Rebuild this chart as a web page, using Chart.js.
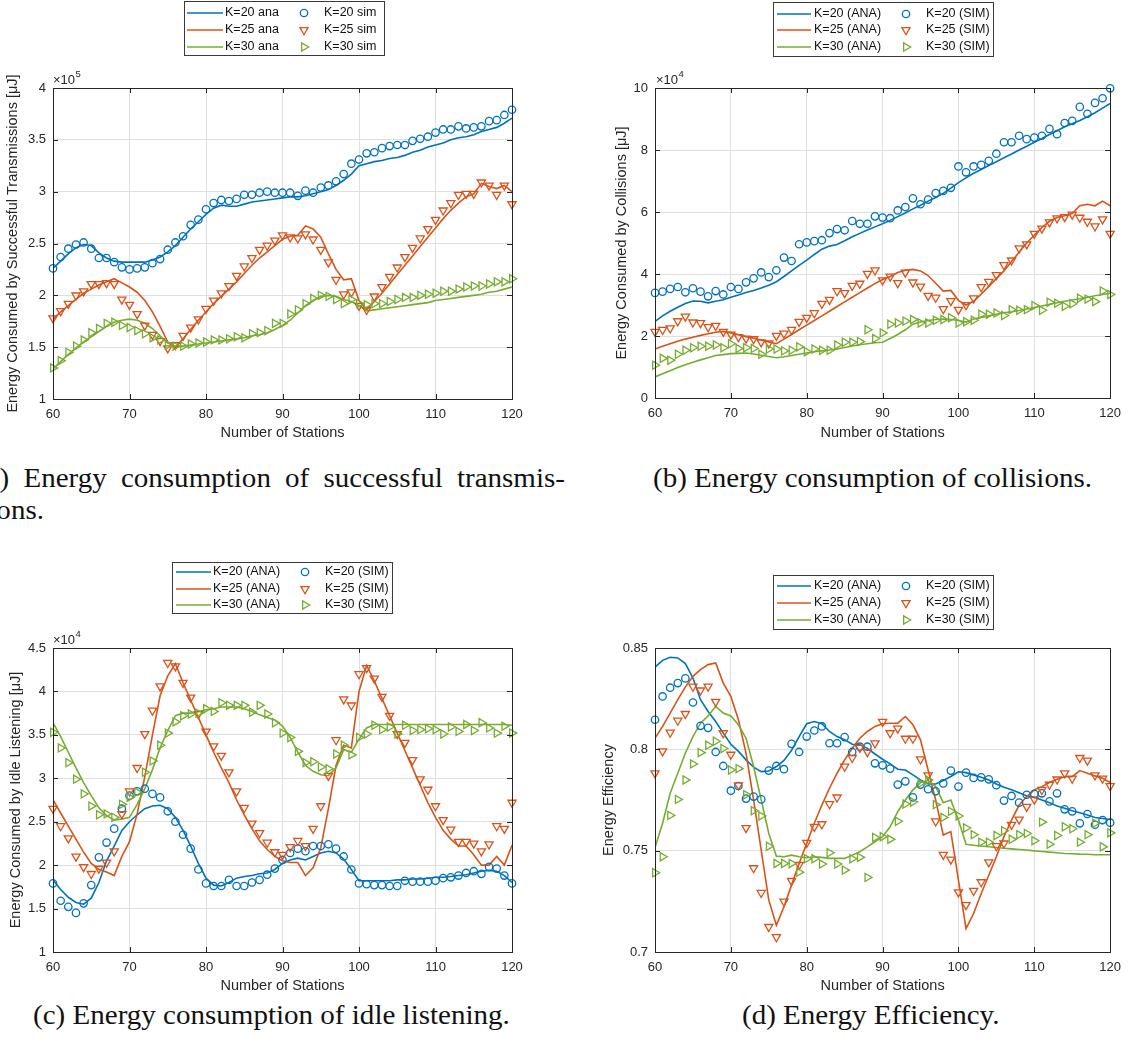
<!DOCTYPE html>
<html>
<head>
<meta charset="utf-8">
<script src="https://cdn.jsdelivr.net/npm/chart.js@4.4.1/dist/chart.umd.min.js"></script>
<style>
  html, body { margin: 0; padding: 0; background: #fff; }
  body { width: 1129px; height: 1047px; position: relative; overflow: hidden; }
  canvas { position: absolute; }
  .cap { position: absolute; font-family: 'Liberation Serif', 'Times New Roman', serif; color: #111; white-space: normal; transform-origin: 0 0; }
</style>
</head>
<body>
<canvas id="cA" width="560" height="446" style="left:0px;top:0px"></canvas>
<canvas id="cB" width="520" height="446" style="left:609px;top:0px"></canvas>
<canvas id="cC" width="557" height="439" style="left:3px;top:560px"></canvas>
<canvas id="cD" width="533" height="439" style="left:596px;top:560px"></canvas>

<div class="cap" id="capA1" style="text-align:justify;text-align-last:justify">(a) Energy consumption of successful transmis-</div>
<div class="cap" id="capA2">sions.</div>
<div class="cap" id="capB">(b) Energy consumption of collisions.</div>
<div class="cap" id="capC">(c) Energy consumption of idle listening.</div>
<div class="cap" id="capD">(d) Energy Efficiency.</div>

<script>
// ---------------- data ----------------
const stations = [60,61,62,63,64,65,66,67,68,69,
  70,71,72,73,74,75,76,77,78,79,
  80,81,82,83,84,85,86,87,88,89,
  90,91,92,93,94,95,96,97,98,99,
  100,101,102,103,104,105,106,107,108,109,
  110,111,112,113,114,115,116,117,118,119,
  120];

const xTicks = [60,70,80,90,100,110,120];
const xTickLabels = ['60','70','80','90','100','110','120'];

// (a) successful transmissions, x10^5 uJ
const yTicksA = [1,1.5,2,2.5,3,3.5,4];
const yLabelsA = ['1','1.5','2','2.5','3','3.5','4'];
const aK20ana = [2.26,2.33,2.40,2.46,2.49,2.48,2.41,2.36,2.33,2.32,
  2.32,2.32,2.32,2.34,2.37,2.42,2.48,2.56,2.64,2.71,
  2.78,2.84,2.87,2.86,2.86,2.88,2.90,2.91,2.92,2.93,
  2.94,2.95,2.95,2.96,2.98,3.00,3.02,3.06,3.11,3.17,
  3.25,3.27,3.29,3.30,3.32,3.33,3.35,3.38,3.40,3.43,
  3.45,3.47,3.50,3.52,3.53,3.55,3.58,3.60,3.62,3.66,
  3.71];
const aK25ana = [1.77,1.84,1.90,1.96,2.02,2.06,2.10,2.13,2.16,2.12,
  2.08,2.03,1.95,1.84,1.70,1.55,1.50,1.58,1.67,1.76,
  1.84,1.92,1.99,2.06,2.13,2.21,2.29,2.36,2.42,2.48,
  2.54,2.57,2.58,2.67,2.64,2.56,2.40,2.25,2.15,2.16,
  1.95,1.86,1.94,2.02,2.11,2.20,2.29,2.38,2.47,2.56,
  2.65,2.74,2.82,2.89,2.95,2.98,3.08,3.05,3.03,3.06,
  3.00];
const aK30ana = [1.29,1.36,1.43,1.49,1.55,1.60,1.65,1.70,1.74,1.76,
  1.77,1.76,1.73,1.68,1.61,1.54,1.51,1.51,1.52,1.53,
  1.54,1.55,1.56,1.57,1.58,1.59,1.61,1.62,1.64,1.67,
  1.71,1.76,1.83,1.90,1.95,1.99,2.00,1.99,1.96,1.94,
  1.90,1.85,1.86,1.87,1.88,1.89,1.90,1.91,1.92,1.93,
  1.95,1.96,1.97,1.98,1.99,2.00,2.01,2.03,2.04,2.06,
  2.08];
const aK20sim = [2.26,2.37,2.45,2.49,2.51,2.45,2.36,2.36,2.32,2.27,
  2.25,2.26,2.27,2.31,2.35,2.44,2.51,2.57,2.68,2.73,
  2.83,2.89,2.92,2.91,2.93,2.97,2.97,2.99,3.00,2.99,
  2.99,2.99,2.96,3.01,2.99,3.04,3.06,3.10,3.17,3.27,
  3.31,3.37,3.38,3.42,3.44,3.45,3.45,3.49,3.51,3.53,
  3.57,3.60,3.60,3.63,3.61,3.62,3.63,3.68,3.69,3.74,
  3.79];
const aK25sim = [1.78,1.85,1.92,2.00,2.04,2.11,2.11,2.12,2.11,1.96,
  1.91,1.82,1.71,1.62,1.56,1.49,1.52,1.61,1.69,1.77,
  1.87,1.95,2.02,2.09,2.19,2.28,2.36,2.44,2.48,2.53,
  2.58,2.56,2.55,2.59,2.54,2.44,2.32,2.15,2.01,2.03,
  1.90,1.86,1.99,2.08,2.18,2.27,2.37,2.46,2.55,2.64,
  2.73,2.82,2.89,2.97,2.98,2.98,3.09,3.06,2.97,3.06,
  2.88];
const aK30sim = [1.30,1.37,1.45,1.51,1.57,1.64,1.68,1.73,1.74,1.71,
  1.69,1.66,1.63,1.59,1.57,1.52,1.51,1.51,1.53,1.54,
  1.55,1.57,1.57,1.58,1.60,1.59,1.63,1.64,1.66,1.73,
  1.73,1.82,1.86,1.92,1.97,2.00,1.99,1.96,1.92,1.96,
  1.92,1.91,1.92,1.92,1.94,1.96,1.98,1.98,2.00,2.01,
  2.02,2.04,2.04,2.06,2.08,2.09,2.09,2.11,2.13,2.13,
  2.16];

// (b) collisions, x10^4 uJ
const yTicksB = [0,2,4,6,8,10];
const yLabelsB = ['0','2','4','6','8','10'];
const bK20ana = [2.47,2.65,2.80,2.93,3.05,3.13,3.12,3.07,3.12,3.17,
  3.25,3.32,3.40,3.47,3.55,3.64,3.75,3.92,4.10,4.28,
  4.45,4.63,4.80,4.90,4.95,5.07,5.20,5.31,5.42,5.52,
  5.62,5.73,5.85,5.97,6.10,6.22,6.35,6.47,6.60,6.77,
  6.95,7.10,7.25,7.37,7.50,7.62,7.75,7.87,8.00,8.12,
  8.25,8.37,8.50,8.62,8.75,8.85,8.95,9.07,9.20,9.35,
  9.50];
const bK25ana = [1.58,1.67,1.75,1.83,1.90,1.96,2.02,2.07,2.12,2.15,
  2.10,2.04,1.98,1.93,1.87,1.81,1.75,1.90,2.05,2.20,
  2.35,2.50,2.65,2.80,2.95,3.10,3.25,3.40,3.55,3.69,
  3.82,3.92,4.05,4.12,4.15,4.10,3.95,3.70,3.45,3.47,
  3.15,3.00,3.12,3.35,3.60,3.85,4.10,4.40,4.70,5.00,
  5.25,5.50,5.70,5.82,5.88,5.95,6.20,6.25,6.20,6.35,
  6.20];
const bK30ana = [0.68,0.78,0.88,0.98,1.07,1.15,1.23,1.30,1.37,1.40,
  1.43,1.44,1.45,1.42,1.38,1.34,1.30,1.33,1.37,1.41,
  1.45,1.49,1.52,1.55,1.58,1.63,1.68,1.72,1.75,1.78,
  1.80,1.92,2.05,2.20,2.38,2.45,2.50,2.53,2.55,2.53,
  2.50,2.45,2.55,2.60,2.65,2.70,2.75,2.78,2.82,2.87,
  2.92,2.97,3.02,3.07,3.12,3.16,3.20,3.25,3.30,3.34,
  3.38];
const bK20sim = [3.39,3.43,3.52,3.58,3.41,3.54,3.43,3.28,3.45,3.34,
  3.58,3.52,3.73,3.86,4.05,3.90,4.12,4.53,4.42,4.96,
  5.02,5.06,5.09,5.32,5.45,5.41,5.71,5.62,5.62,5.86,
  5.82,5.80,6.05,6.16,6.44,6.25,6.40,6.61,6.68,6.78,
  7.47,7.28,7.47,7.52,7.65,7.88,8.25,8.25,8.46,8.35,
  8.40,8.46,8.68,8.51,8.87,8.94,9.39,9.17,9.52,9.67,
  9.99];
const bK25sim = [2.14,2.20,2.25,2.48,2.63,2.44,2.42,2.29,2.33,2.14,
  2.05,1.97,1.92,1.90,1.80,1.77,2.01,2.08,2.20,2.46,
  2.59,2.74,3.04,3.17,3.45,3.39,3.62,3.69,4.01,4.12,
  3.80,3.92,3.71,4.05,3.73,3.60,3.30,3.24,2.87,3.13,
  2.85,3.00,3.22,3.58,3.75,3.97,4.29,4.44,4.83,4.96,
  5.30,5.47,5.67,5.80,5.84,5.92,5.82,5.69,5.54,5.77,
  5.30];
const bK30sim = [1.06,1.28,1.22,1.41,1.54,1.62,1.67,1.67,1.71,1.62,
  1.75,1.60,1.62,1.60,1.41,1.58,1.58,1.52,1.54,1.65,
  1.49,1.58,1.54,1.54,1.71,1.80,1.80,1.82,2.20,1.92,
  2.10,2.38,2.42,2.48,2.53,2.42,2.42,2.51,2.53,2.59,
  2.42,2.46,2.51,2.70,2.70,2.74,2.66,2.85,2.83,2.85,
  2.98,2.83,3.09,3.06,2.96,3.04,3.22,3.19,3.11,3.45,
  3.34];

// (c) idle listening, x10^4 uJ
const yTicksC = [1,1.5,2,2.5,3,3.5,4,4.5];
const yLabelsC = ['1','1.5','2','2.5','3','3.5','4','4.5'];
const cK20ana = [1.83,1.72,1.63,1.57,1.55,1.62,1.80,2.05,2.22,2.40,
  2.50,2.58,2.65,2.68,2.69,2.65,2.55,2.40,2.22,2.02,
  1.85,1.77,1.76,1.80,1.85,1.87,1.88,1.90,1.91,1.95,
  2.02,2.06,2.08,2.06,2.10,2.14,2.16,2.14,2.07,1.95,
  1.82,1.82,1.82,1.82,1.82,1.83,1.83,1.84,1.84,1.85,
  1.86,1.86,1.87,1.88,1.89,1.91,1.93,1.94,1.93,1.88,
  1.80];
const cK25ana = [2.75,2.60,2.45,2.30,2.15,2.02,1.95,1.92,1.88,2.10,
  2.27,2.59,3.02,3.50,3.95,4.18,4.32,4.10,3.90,3.70,
  3.50,3.30,3.12,2.95,2.75,2.58,2.42,2.28,2.18,2.10,
  2.05,2.03,2.03,1.88,1.97,2.20,2.65,3.15,3.38,3.35,
  4.00,4.30,4.12,3.92,3.72,3.52,3.32,3.12,2.92,2.72,
  2.55,2.40,2.30,2.22,2.22,2.12,2.00,2.00,2.10,2.00,
  2.23];
const cK30ana = [3.64,3.48,3.30,3.12,2.95,2.80,2.66,2.57,2.52,2.53,
  2.55,2.70,2.88,3.10,3.35,3.55,3.72,3.75,3.75,3.77,
  3.79,3.80,3.82,3.82,3.82,3.80,3.77,3.73,3.70,3.67,
  3.60,3.47,3.30,3.15,3.08,3.04,3.03,3.12,3.33,3.30,
  3.45,3.58,3.62,3.62,3.62,3.62,3.62,3.62,3.62,3.62,
  3.62,3.62,3.62,3.62,3.62,3.62,3.62,3.62,3.62,3.62,
  3.61];
const cK20sim = [1.79,1.59,1.52,1.45,1.56,1.77,2.09,2.26,2.42,2.65,
  2.80,2.85,2.88,2.82,2.78,2.62,2.50,2.35,2.19,1.95,
  1.79,1.76,1.76,1.83,1.76,1.76,1.80,1.83,1.89,1.96,
  2.06,2.14,2.19,2.16,2.22,2.22,2.24,2.19,2.10,1.95,
  1.79,1.78,1.77,1.77,1.76,1.76,1.82,1.81,1.81,1.81,
  1.82,1.85,1.86,1.88,1.91,1.93,1.90,1.98,1.96,1.88,
  1.79];
const cK25sim = [2.65,2.45,2.31,2.10,1.98,1.90,1.96,2.03,2.16,2.59,
  2.85,3.12,3.51,3.78,4.06,4.33,4.29,4.10,3.93,3.74,
  3.54,3.37,3.26,3.07,2.85,2.66,2.48,2.37,2.26,2.15,
  2.12,2.21,2.28,2.22,2.42,2.68,3.03,3.44,3.91,3.84,
  4.20,4.27,4.15,3.94,3.72,3.51,3.41,3.21,2.99,2.87,
  2.68,2.52,2.41,2.27,2.27,2.25,2.16,2.24,2.45,2.42,
  2.72];
const cK30sim = [3.53,3.35,3.18,2.99,2.82,2.68,2.58,2.59,2.55,2.70,
  2.78,2.84,3.07,3.20,3.38,3.52,3.65,3.72,3.74,3.75,
  3.80,3.77,3.87,3.84,3.84,3.84,3.76,3.84,3.74,3.64,
  3.52,3.47,3.31,3.18,3.19,3.13,3.11,3.28,3.38,3.27,
  3.47,3.51,3.61,3.56,3.59,3.51,3.61,3.55,3.56,3.57,
  3.56,3.51,3.59,3.54,3.62,3.55,3.64,3.58,3.52,3.60,
  3.52];

// (d) energy efficiency
const yTicksD = [0.7,0.75,0.8,0.85];
const yLabelsD = ['0.7','0.75','0.8','0.85'];
const dK20ana = [0.8406,0.8439,0.8454,0.8451,0.8423,0.8352,0.8245,0.8187,0.8137,0.8080,
  0.8025,0.7990,0.7948,0.7912,0.7890,0.7893,0.7915,0.7945,0.7995,0.8063,
  0.8126,0.8137,0.8126,0.8088,0.8063,0.8047,0.8025,0.8022,0.8005,0.7977,
  0.7951,0.7928,0.7902,0.7898,0.7874,0.7849,0.7829,0.7829,0.7846,0.7866,
  0.7889,0.7885,0.7874,0.7862,0.7849,0.7829,0.7813,0.7800,0.7786,0.7770,
  0.7763,0.7750,0.7737,0.7720,0.7709,0.7697,0.7687,0.7676,0.7664,0.7659,
  0.7654];
const dK25ana = [0.8055,0.8113,0.8179,0.8245,0.8307,0.8360,0.8393,0.8418,0.8426,0.8327,
  0.8261,0.8146,0.7981,0.7750,0.7503,0.7256,0.7132,0.7223,0.7330,0.7437,
  0.7536,0.7635,0.7725,0.7808,0.7882,0.7948,0.8005,0.8055,0.8088,0.8113,
  0.8126,0.8129,0.8129,0.8162,0.8121,0.8047,0.7898,0.7750,0.7577,0.7594,
  0.7355,0.7115,0.7190,0.7289,0.7379,0.7470,0.7569,0.7651,0.7725,0.7767,
  0.7800,0.7816,0.7836,0.7852,0.7865,0.7865,0.7895,0.7882,0.7869,0.7857,
  0.7836];
const dK30ana = [0.7516,0.7635,0.7783,0.7882,0.7981,0.8063,0.8129,0.8165,0.8212,0.8179,
  0.8165,0.8121,0.8055,0.7915,0.7750,0.7585,0.7473,0.7470,0.7478,0.7470,
  0.7465,0.7470,0.7467,0.7462,0.7462,0.7462,0.7478,0.7495,0.7519,0.7544,
  0.7569,0.7618,0.7692,0.7750,0.7800,0.7836,0.7846,0.7816,0.7737,0.7750,
  0.7651,0.7532,0.7527,0.7523,0.7519,0.7516,0.7512,0.7509,0.7506,0.7503,
  0.7499,0.7496,0.7493,0.7490,0.7486,0.7485,0.7483,0.7482,0.7480,0.7480,
  0.7480];
const dK20sim = [0.8146,0.8261,0.8304,0.8327,0.8350,0.8231,0.8116,0.8106,0.7987,0.7918,
  0.7796,0.7819,0.7757,0.7767,0.7753,0.7895,0.7918,0.7902,0.8027,0.7987,
  0.8063,0.8093,0.8113,0.8030,0.8030,0.8060,0.7987,0.8013,0.8013,0.7931,
  0.7921,0.7905,0.7826,0.7842,0.7763,0.7826,0.7803,0.7793,0.7832,0.7895,
  0.7816,0.7885,0.7859,0.7862,0.7852,0.7823,0.7747,0.7770,0.7737,0.7776,
  0.7780,0.7783,0.7743,0.7783,0.7704,0.7694,0.7635,0.7681,0.7628,0.7651,
  0.7638];
const dK25sim = [0.7882,0.7991,0.8083,0.8142,0.8175,0.8310,0.8291,0.8310,0.8235,0.8080,
  0.7974,0.7823,0.7612,0.7414,0.7292,0.7124,0.7074,0.7249,0.7351,0.7430,
  0.7539,0.7618,0.7631,0.7730,0.7763,0.7915,0.7958,0.8008,0.7987,0.8030,
  0.8136,0.8080,0.8103,0.8053,0.8053,0.7951,0.7872,0.7645,0.7480,0.7457,
  0.7295,0.7232,0.7302,0.7345,0.7443,0.7523,0.7536,0.7628,0.7654,0.7717,
  0.7753,0.7800,0.7826,0.7852,0.7882,0.7856,0.7958,0.7945,0.7872,0.7856,
  0.7819];
const dK30sim = [0.7391,0.7470,0.7674,0.7753,0.7849,0.7928,0.7984,0.8020,0.8040,0.8004,
  0.7898,0.7905,0.7776,0.7697,0.7671,0.7522,0.7437,0.7437,0.7437,0.7394,
  0.7460,0.7460,0.7434,0.7490,0.7434,0.7404,0.7460,0.7467,0.7368,0.7565,
  0.7569,0.7556,0.7645,0.7730,0.7740,0.7833,0.7849,0.7727,0.7664,0.7694,
  0.7671,0.7612,0.7579,0.7542,0.7542,0.7575,0.7598,0.7556,0.7579,0.7585,
  0.7549,0.7641,0.7532,0.7575,0.7618,0.7608,0.7542,0.7579,0.7635,0.7519,
  0.7588];

const anaLabelsA = ['K=20 ana','K=25 ana','K=30 ana'];
const simLabelsA = ['K=20 sim','K=25 sim','K=30 sim'];
const anaLabels = ['K=20 (ANA)','K=25 (ANA)','K=30 (ANA)'];
const simLabels = ['K=20 (SIM)','K=25 (SIM)','K=30 (SIM)'];

// ---------------- styling ----------------
const COLORS = ['rgb(0,114,189)','rgb(217,83,25)','rgb(119,172,48)'];
const AX = '#262626';
const GRID = 'rgb(223,223,223)';
const FONT = "'Liberation Sans', Arial, Helvetica, sans-serif";
const MARKERS = [['circle',0,3.7],['triangle',180,4.7],['triangle',90,4.7]];

Chart.defaults.font.family = FONT;

function drawMarker(ctx, style, x, y, r, rot) {
  ctx.beginPath();
  if (style === 'circle') {
    ctx.arc(x, y, r, 0, Math.PI * 2);
  } else {
    let a = rot * Math.PI / 180;
    for (let i = 0; i < 3; i++) {
      const px = x + Math.sin(a) * r, py = y - Math.cos(a) * r;
      if (i) ctx.lineTo(px, py); else ctx.moveTo(px, py);
      a += 2 * Math.PI / 3;
    }
    ctx.closePath();
  }
  ctx.stroke();
}

const matlabPlugin = {
  id: 'matlab',
  afterDraw(chart, args, o) {
    const {ctx, chartArea: ca, scales: {x, y}} = chart;
    ctx.save();
    ctx.strokeStyle = AX; ctx.lineWidth = 1;
    const L = 5;
    ctx.beginPath();
    o.xTicks.forEach(v => {
      const px = Math.round(x.getPixelForValue(v)) + 0.5;
      ctx.moveTo(px, ca.bottom); ctx.lineTo(px, ca.bottom - L);
      ctx.moveTo(px, ca.top); ctx.lineTo(px, ca.top + L);
    });
    o.yTicks.forEach(v => {
      const py = Math.round(y.getPixelForValue(v)) + 0.5;
      ctx.moveTo(ca.left, py); ctx.lineTo(ca.left + L, py);
      ctx.moveTo(ca.right, py); ctx.lineTo(ca.right - L, py);
    });
    ctx.stroke();
    ctx.strokeRect(Math.round(ca.left) + 0.5, Math.round(ca.top) + 0.5,
                   Math.round(ca.right - ca.left), Math.round(ca.bottom - ca.top));
    const [ox, oy] = o.offset;
    if (o.exp) {
      ctx.fillStyle = AX; ctx.textBaseline = 'middle'; ctx.textAlign = 'left';
      ctx.font = '13px ' + FONT;
      const ex = o.exp.x - ox, ey = o.exp.y - oy;
      ctx.fillText('\u00d710', ex, ey);
      const w = ctx.measureText('\u00d710').width;
      ctx.font = '9.5px ' + FONT;
      ctx.fillText(o.exp.pow, ex + w + 0.5, ey - 5.5);
    }
    const lg = o.legend;
    ctx.fillStyle = '#fff';
    ctx.fillRect(lg.box[0] - ox, lg.box[1] - oy, lg.box[2], lg.box[3]);
    ctx.strokeStyle = '#3a3a3a'; ctx.lineWidth = 1;
    ctx.strokeRect(lg.box[0] - ox + 0.5, lg.box[1] - oy + 0.5, lg.box[2], lg.box[3]);
    ctx.font = '12.5px ' + FONT;
    ctx.textBaseline = 'middle'; ctx.textAlign = 'left';
    lg.rows.forEach((ry, k) => {
      const yy = ry - oy;
      ctx.strokeStyle = COLORS[k]; ctx.lineWidth = 1.6;
      ctx.beginPath(); ctx.moveTo(lg.lx0 - ox, yy); ctx.lineTo(lg.lx1 - ox, yy); ctx.stroke();
      ctx.lineWidth = 1.3;
      drawMarker(ctx, MARKERS[k][0], lg.mx - ox, yy, MARKERS[k][2], MARKERS[k][1]);
      ctx.fillStyle = '#111';
      ctx.fillText(o.anaLabels[k], lg.tx - ox, yy);
      ctx.fillText(o.simLabels[k], lg.tx2 - ox, yy);
    });
    ctx.restore();
  }
};

function series(ys) { return stations.map((xv, i) => ({x: xv, y: ys[i]})); }

function buildDatasets(ana, sim) {
  const ds = [];
  ana.forEach((ys, k) => ds.push({
    type: 'line', data: series(ys), borderColor: COLORS[k], borderWidth: 1.6,
    pointRadius: 0, pointHoverRadius: 0, fill: false, tension: 0, order: 6 - k
  }));
  sim.forEach((ys, k) => ds.push({
    type: 'line', data: series(ys), showLine: false, borderColor: COLORS[k],
    backgroundColor: 'rgba(0,0,0,0)', pointStyle: MARKERS[k][0], rotation: MARKERS[k][1],
    pointRadius: MARKERS[k][2], pointHoverRadius: MARKERS[k][2], pointBorderWidth: 1.3,
    pointBorderColor: COLORS[k], pointBackgroundColor: 'rgba(0,0,0,0)', clip: false, order: 3 - k
  }));
  return ds;
}

function makeChart(id, cfg) {
  return new Chart(document.getElementById(id), {
    type: 'line',
    data: { datasets: buildDatasets(cfg.ana, cfg.sim) },
    options: {
      responsive: false, animation: false, devicePixelRatio: 1,
      events: [],
      layout: { padding: { top: cfg.padTop, right: cfg.padRight, left: 0, bottom: 0 } },
      plugins: {
        legend: { display: false }, tooltip: { enabled: false },
        matlab: {
          xTicks: xTicks, yTicks: cfg.yTicks, offset: cfg.offset, exp: cfg.exp,
          legend: cfg.legend, anaLabels: cfg.anaLabels, simLabels: cfg.simLabels
        }
      },
      scales: {
        x: {
          type: 'linear', min: 60, max: 120,
          afterBuildTicks: s => { s.ticks = xTicks.map(v => ({value: v})); },
          afterFit: s => { s.height = cfg.xAxisH; },
          grid: { color: GRID, lineWidth: 1, drawTicks: false },
          border: { display: false },
          ticks: { color: AX, font: { size: 13 }, padding: 8, maxRotation: 0, autoSkip: false,
                   callback: (v, i) => xTickLabels[i] },
          title: { display: true, text: 'Number of Stations', color: AX,
                   font: { size: 14.5 }, padding: { top: 0, bottom: 4 } }
        },
        y: {
          type: 'linear', min: cfg.yTicks[0], max: cfg.yTicks[cfg.yTicks.length - 1],
          afterBuildTicks: s => { s.ticks = cfg.yTicks.map(v => ({value: v})); },
          afterFit: s => { s.width = cfg.yAxisW; },
          grid: { color: GRID, lineWidth: 1, drawTicks: false },
          border: { display: false },
          ticks: { color: AX, font: { size: 13 }, padding: 7, autoSkip: false,
                   callback: (v, i) => cfg.yLabels[i] },
          title: { display: true, text: cfg.yTitle, color: AX,
                   font: { size: 14.5 }, padding: { top: 4, bottom: 0 } }
        }
      }
    },
    plugins: [matlabPlugin]
  });
}

const legRight = (y0, rows) => ({ box: [773, y0, 220, 54], rows: rows,
  lx0: 777, lx1: 811, tx: 814, mx: 906, tx2: 926 });

makeChart('cA', {
  ana: [aK20ana, aK25ana, aK30ana], sim: [aK20sim, aK25sim, aK30sim],
  yTicks: yTicksA, yLabels: yLabelsA,
  yTitle: 'Energy Consumed by Successful Transmissions [\u03bcJ]',
  padTop: 88, padRight: 48, yAxisW: 53, xAxisH: 47, offset: [0, 0],
  exp: { x: 53, y: 80, pow: '5' },
  legend: { box: [184, 1, 200, 54], rows: [13, 30, 47], lx0: 187, lx1: 223, tx: 225, mx: 304, tx2: 324 },
  anaLabels: anaLabelsA, simLabels: simLabelsA
});
makeChart('cB', {
  ana: [bK20ana, bK25ana, bK30ana], sim: [bK20sim, bK25sim, bK30sim],
  yTicks: yTicksB, yLabels: yLabelsB,
  yTitle: 'Energy Consumed by Collisions [\u03bcJ]',
  padTop: 88, padRight: 17, yAxisW: 46, xAxisH: 48, offset: [609, 0],
  exp: { x: 656, y: 80, pow: '4' },
  legend: legRight(2, [14, 30, 47]),
  anaLabels: anaLabels, simLabels: simLabels
});
makeChart('cC', {
  ana: [cK20ana, cK25ana, cK30ana], sim: [cK20sim, cK25sim, cK30sim],
  yTicks: yTicksC, yLabels: yLabelsC,
  yTitle: 'Energy Consumed by Idle Listening [\u03bcJ]',
  padTop: 88, padRight: 48, yAxisW: 50, xAxisH: 47, offset: [3, 560],
  exp: { x: 53, y: 640, pow: '4' },
  legend: { box: [172, 562, 220, 51], rows: [572, 589, 605], lx0: 176, lx1: 211, tx: 213, mx: 305, tx2: 325 },
  anaLabels: anaLabels, simLabels: simLabels
});
makeChart('cD', {
  ana: [dK20ana, dK25ana, dK30ana], sim: [dK20sim, dK25sim, dK30sim],
  yTicks: yTicksD, yLabels: yLabelsD,
  yTitle: 'Energy Efficiency',
  padTop: 88, padRight: 17, yAxisW: 59, xAxisH: 47, offset: [596, 560],
  exp: null,
  legend: legRight(575, [586, 603, 620]),
  anaLabels: anaLabels, simLabels: simLabels
});

// ---------------- captions ----------------
(function placeCaptions() {
  const mc = document.createElement('canvas').getContext('2d');
  const fam = "'Liberation Serif', 'Times New Roman', serif";
  const fs = 27.5;
  mc.font = fs + 'px ' + fam;
  const wb = mc.measureText('(b) Energy consumption of collisions.').width;
  const sx = 439 / wb;
  function put(id, baseline, left, width, center) {
    const el = document.getElementById(id);
    el.style.fontSize = fs + 'px';
    el.style.lineHeight = fs + 'px';
    el.style.top = (baseline - 0.8375 * fs) + 'px';
    el.style.transform = 'scaleX(' + sx + ')';
    if (center !== undefined) {
      const w = mc.measureText(el.textContent).width * sx;
      el.style.left = (center - w / 2) + 'px';
      el.style.whiteSpace = 'nowrap';
    } else {
      el.style.left = left + 'px';
      if (width) el.style.width = (width / sx) + 'px';
    }
  }
  put('capA1', 487, -23, 588);
  put('capA2', 519, -23);
  put('capB', 487, 0, 0, 872.5);
  put('capC', 1024, 0, 0, 271.5);
  put('capD', 1024, 0, 0, 870.5);
})();
</script>
</body>
</html>
